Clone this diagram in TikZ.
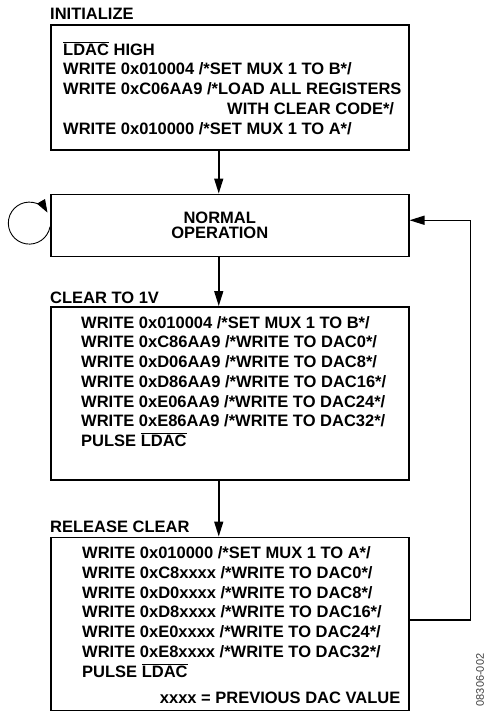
\documentclass[tikz,border=0pt]{standalone}
\usepackage{fontspec}
\setmainfont{Liberation Sans}
\usetikzlibrary{positioning,calc,arrows.meta}

\newcommand{\barldac}{\ensuremath{\overline{\mbox{LDAC}}}}

\tikzset{
	box/.style={draw, line width=1.5pt, minimum width=358pt, inner sep=0pt},
	title/.style={anchor=base west, inner sep=0pt, font=\fontsize{16.5}{19.75}\selectfont\bfseries},
	codeline/.style={anchor=base west, inner sep=0pt, font=\fontsize{16.5}{19.75}\selectfont\bfseries},
	flow/.style={line width=1.5pt, -{Triangle[length=15pt,width=9pt]}},
	selfloop/.style={line width=0.9pt, -{Triangle[length=13pt,width=9pt]}},
}

\begin{document}
\begin{tikzpicture}[x=1pt,y=-1pt]
	\useasboundingbox (0,0) rectangle (492,716);
	% boxes
	\node[box, minimum height=125pt, anchor=north west] (init) at (50,24) {};
	\node[box, minimum height=62pt, below=43pt of init] (normal) {};
	\node[box, minimum height=173pt, below=49pt of normal] (clear) {};
	\node[box, minimum height=173pt, below=56pt of clear] (release) {};
	% titles
	\node[title] (inittitle) at ([yshift=5pt]init.north west) {INITIALIZE};
	\node[title] (cleartitle) at ([yshift=3pt]clear.north west) {CLEAR TO 1V};
	\node[title] (releasetitle) at ([yshift=4pt]release.north west) {RELEASE CLEAR};
	% initialize
	\foreach \ln [count=\i from 0] in {\barldac{} HIGH, WRITE 0x010004 /*SET MUX 1 TO B*/, WRITE 0xC06AA9 /*LOAD ALL REGISTERS}
		\node[codeline] (initline\i) at ($(init.north west)+(13,31+19.75*\i)$) {\ln};
	\node[codeline] (initline3) at ($(init.north west)+(177,31+19.75*3)$) {WITH CLEAR CODE*/};
	\node[codeline] (initline4) at ($(init.north west)+(13,31+19.75*4)$) {WRITE 0x010000 /*SET MUX 1 TO A*/};
	% normal operation
	\node[align=center, inner sep=0pt, font=\fontsize{16.5}{15.5}\selectfont\bfseries] (normaltext)
		at ([xshift=-10pt]normal.center) {NORMAL\\OPERATION};
	% clear to 1v
	\foreach \ln [count=\i from 0] in {WRITE 0x010004 /*SET MUX 1 TO B*/, WRITE 0xC86AA9 /*WRITE TO DAC0*/,
		WRITE 0xD06AA9 /*WRITE TO DAC8*/, WRITE 0xD86AA9 /*WRITE TO DAC16*/, WRITE 0xE06AA9 /*WRITE TO DAC24*/,
		WRITE 0xE86AA9 /*WRITE TO DAC32*/, PULSE \barldac}
		\node[codeline] (clearline\i) at ($(clear.north west)+(31,22+19.75*\i)$) {\ln};
	% release clear
	\foreach \ln [count=\i from 0] in {WRITE 0x010000 /*SET MUX 1 TO A*/, WRITE 0xC8xxxx /*WRITE TO DAC0*/,
		WRITE 0xD0xxxx /*WRITE TO DAC8*/, WRITE 0xD8xxxx /*WRITE TO DAC16*/, WRITE 0xE0xxxx /*WRITE TO DAC24*/,
		WRITE 0xE8xxxx /*WRITE TO DAC32*/, PULSE \barldac}
		\node[codeline] (releaseline\i) at ($(release.north west)+(32,22+19.75*\i)$) {\ln};
	\node[codeline, anchor=base east] (releasenote) at ($(release.north east)+(-9,167)$) {xxxx = PREVIOUS DAC VALUE};
	% connectors
	\draw[flow] ([xshift=-11pt]init.south) -- ([xshift=-11pt]normal.north);
	\draw[flow] ([xshift=-11pt]normal.south) -- ([xshift=-11pt]clear.north);
	\draw[flow] ([xshift=-11pt]clear.south) -- ([xshift=-11pt]release.north);
	\draw[flow] ([yshift=4pt]release.east) -- ++(61,0) |- ([yshift=5pt]normal.east);
	\draw[selfloop] ([yshift=-1.5pt]normal.west) arc[start angle=10, end angle=330, radius=21];
	\node[rotate=90, inner sep=0pt, font=\fontsize{11}{13}\selectfont, text=black!75] (fignum) at (480,680) {08306-002};
\end{tikzpicture}
\end{document}
